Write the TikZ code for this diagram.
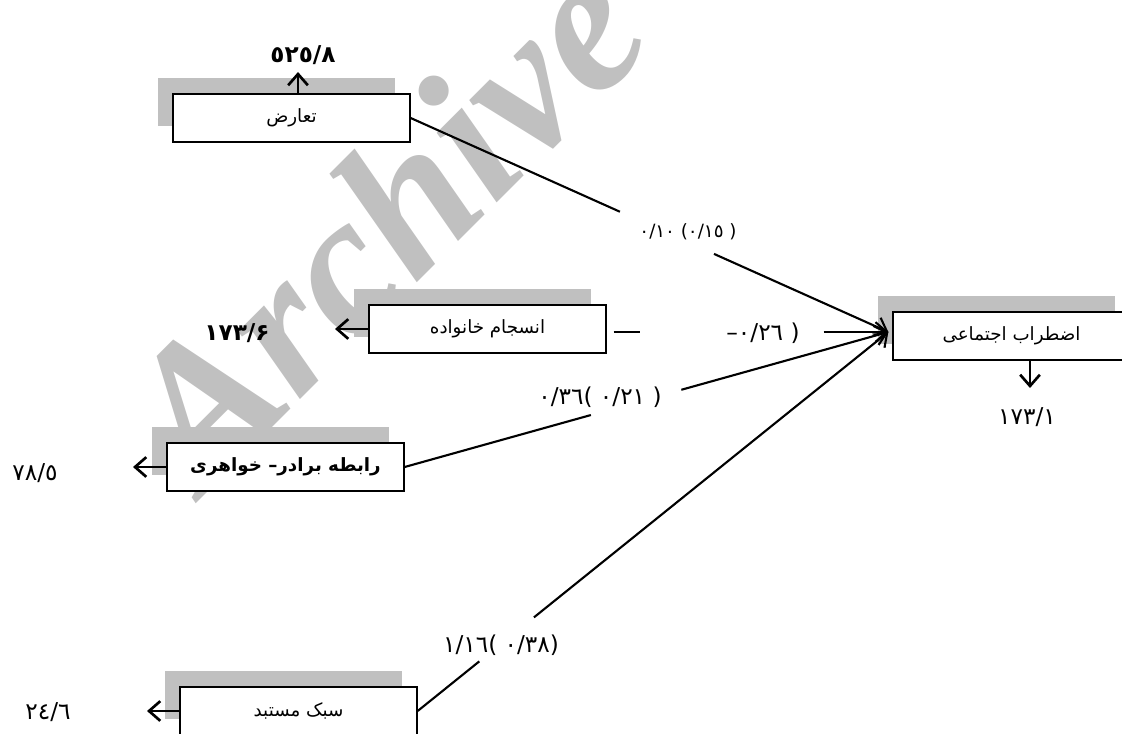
\documentclass[tikz,border=0pt]{standalone}
\usepackage{fontspec}
\usepackage{tikz}
\usetikzlibrary{arrows.meta,positioning,calc,shadows}
\usepackage{xcolor}
\TeXXeTstate=1
\newfontfamily\persianfont[Script=Arabic]{DejaVu Sans}
\newfontfamily\latinfont{DejaVu Sans}
\newfontfamily\markfont{Liberation Serif}
\newcommand{\opbr}{{\latinfont(}}
\newcommand{\clbr}{{\latinfont)}}
\newcommand{\negsign}{{\latinfont–}}
\definecolor{shadowgray}{HTML}{C0C0C0}

\begin{document}
\begin{tikzpicture}[
    x=0.025cm, y=0.025cm,
    varbox/.style={rectangle, draw, line width=0.9pt, fill=white, minimum width=5.925cm, minimum height=1.2cm, align=center,
        font=\persianfont\fontsize{13}{15}\selectfont,
        drop shadow={shadow xshift=-0.375cm, shadow yshift=0.4cm, fill=shadowgray, opacity=1}},
    errval/.style={font=\persianfont\fontsize{16.5}{19}\selectfont, inner sep=1pt},
    coef/.style={font=\persianfont\fontsize{16.5}{19}\selectfont, inner sep=1pt},
    link/.style={line width=1.5pt},
    arrow/.style={line width=1.5pt, -{Straight Barb[length=8pt,width=14pt]}},
    stub/.style={line width=1.9pt, -{Straight Barb[length=8pt,width=14pt]}}
]
    \useasboundingbox (0,0) rectangle (1122,733);

    % Watermark
    \node[text=shadowgray, font=\markfont\bfseries\itshape\fontsize{142}{142}\selectfont,
          rotate=45, anchor=base west, inner sep=0pt] (mark) at (203,236) {Archive of SID};

    % Predictors
    \node[varbox] (conflict) at (291.5,615) {\beginR تعارض\endR};
    \node[varbox] (cohesion) at (487.5,404) {\beginR انسجام خانواده\endR};
    \node[varbox, font=\persianfont\bfseries\fontsize{13}{15}\selectfont] (sibling) at (285.5,266) {\beginR رابطه برادر– خواهری\endR};
    \node[varbox] (parenting) at (298.5,22) {\beginR سبک مستبد\endR};

    % Outcome
    \node[varbox] (anxiety) at (1011.5,397) {\beginR اضطراب اجتماعی\endR};

    % Error values
    \node[errval, font=\persianfont\bfseries\fontsize{16.5}{19}\selectfont] (conflictval) at (303,678) {٥٢٥/٨};
    \node[errval, font=\persianfont\bfseries\fontsize{16.5}{19}\selectfont] (cohesionval) at (237,400) {۱۷۳/۶};
    \node[errval] (siblingval) at (35,260) {٧٨/٥};
    \node[errval] (parentingval) at (48,21) {٢٤/٦};
    \node[errval] (anxietyval) at (1027,316) {١٧٣/١};

    % Arrow ends
    \coordinate (conflicttip) at (298,661);
    \coordinate (cohesiontip) at (335,404);
    \coordinate (siblingtip) at (133,266);
    \coordinate (parentingtip) at (147,22);
    \coordinate (anxietytip) at (1030,345);
    \coordinate (anxin) at ($(anxiety.west)+(-4,4)$);

    % Error arrows
    \draw[stub] (conflict.north -| conflicttip) -- (conflicttip);
    \draw[stub] (cohesion.west) -- (cohesiontip);
    \draw[stub] (sibling.west) -- (siblingtip);
    \draw[stub] (parenting.west) -- (parentingtip);
    \draw[stub] (anxiety.south -| anxietytip) -- (anxietytip);

    % Paths into social anxiety
    \draw[link] (conflict.east) -- ($(conflict.east)!0.438!(anxin)$);
    \draw[arrow] ($(conflict.east)!0.635!(anxin)$) -- (anxin);

    \coordinate (cohesion1) at ($(cohesion.east)+(7,-3)$);
    \coordinate (cohesion2) at ($(cohesion.east)+(33,-3)$);
    \coordinate (cohesion3) at ($(cohesion.east)+(217,-3)$);
    \draw[link] (cohesion1) -- (cohesion2);
    \draw[arrow] (cohesion3) -- (anxin);

    \draw[link] (sibling.east) -- ($(sibling.east)!0.385!(anxin)$);
    \draw[arrow] ($(sibling.east)!0.572!(anxin)$) -- (anxin);

    \draw[link] (parenting.east) -- ($(parenting.east)!0.131!(anxin)$);
    \draw[arrow] ($(parenting.east)!0.247!(anxin)$) -- (anxin);

    % Coefficients (brackets in a Latin font, so that none is turned round)
    \node[coef, font=\persianfont\fontsize{13}{15}\selectfont] (conflictcoef) at (688,501) {٠/١٠ \opbr{}٠/١٥ \clbr};
    \node[coef] (cohesioncoef) at (763,400) {\negsign{}٠/٢٦ \clbr};
    \node[coef] (siblingcoef) at (600,336) {٠/٣٦\opbr{} ٠/٢١ \clbr};
    \node[coef] (parentingcoef) at (501,88) {١/١٦\opbr{} ٠/٣٨\clbr};
\end{tikzpicture}
\end{document}
